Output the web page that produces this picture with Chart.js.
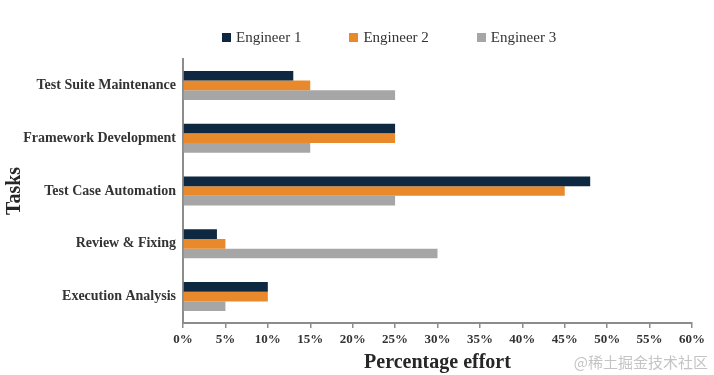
<!DOCTYPE html>
<html>
<head>
<meta charset="utf-8">
<script src="https://cdn.jsdelivr.net/npm/chart.js@4.4.1/dist/chart.umd.min.js"></script>
<style>
  html, body { margin: 0; padding: 0; background: #fff; }
  #wrap { position: relative; width: 714px; height: 375px; }
  #legend { position: absolute; left: 222px; top: 28px; display: flex; gap: 48px;
            font: 15px "Liberation Serif", serif; line-height: 18px; color: #333; }
  #legend .item { display: flex; align-items: center; }
  #legend .box { width: 9px; height: 9px; margin-right: 5px; }
  #mark { position: absolute; right: 6px; top: 351px; font: 15px "Noto Sans CJK SC", sans-serif; color: #c4c4c4; }
</style>
</head>
<body>
<div id="wrap">
  <canvas id="chart" width="714" height="375"></canvas>
  <div id="legend"></div>
  <div id="mark">@稀土掘金技术社区</div>
</div>
<script>
const tasks = ["Test Suite Maintenance", "Framework Development", "Test Case Automation", "Review & Fixing", "Execution Analysis"];
const seriesNames = ["Engineer 1", "Engineer 2", "Engineer 3"];
const engineer1 = [13, 25, 48, 4, 10];
const engineer2 = [15, 25, 45, 5, 10];
const engineer3 = [25, 15, 25, 30, 5];
const colors = ["#0e2841", "#e8892b", "#a6a6a6"];

Chart.defaults.font.family = '"Liberation Serif", serif';

const axisGray = "#8c8c8c";

const chart = new Chart(document.getElementById("chart"), {
    type: "bar",
    data: {
        labels: tasks,
        datasets: [engineer1, engineer2, engineer3].map((d, i) => ({
            label: seriesNames[i],
            data: d,
            backgroundColor: colors[i],
            barPercentage: 1,
            categoryPercentage: 0.55
        }))
    },
    options: {
        indexAxis: "y",
        responsive: false,
        animation: false,
        layout: { padding: { top: 59, right: 22, left: 0, bottom: 0 } },
        plugins: {
            legend: { display: false },
            tooltip: { enabled: false }
        },
        scales: {
            x: {
                min: 0,
                max: 60,
                ticks: {
                    stepSize: 5,
                    autoSkip: false,
                    maxRotation: 0,
                    callback: v => v + "%",
                    font: { size: 13, weight: "bold" },
                    color: "#333",
                    padding: 4
                },
                grid: { drawOnChartArea: false, drawTicks: true, tickLength: 5, color: axisGray, lineWidth: 1.5 },
                border: { color: axisGray, width: 2 },
                title: {
                    display: true,
                    text: "Percentage effort",
                    font: { size: 20, weight: "bold" },
                    color: "#262626",
                    padding: { top: 0, bottom: 0 }
                },
                afterFit: s => { s.height = 52; }
            },
            y: {
                ticks: { font: { size: 14, weight: "bold" }, color: "#333", padding: 7 },
                grid: { display: false, drawTicks: false, tickLength: 0 },
                border: { color: axisGray, width: 2 },
                title: {
                    display: true,
                    text: "Tasks",
                    font: { size: 20, weight: "bold" },
                    color: "#262626",
                    padding: { top: 3, bottom: 0 }
                },
                afterFit: s => { s.width = 183; }
            }
        }
    }
});

// html legend built from the datasets
const legendEl = document.getElementById("legend");
chart.data.datasets.forEach(ds => {
    const item = document.createElement("div");
    item.className = "item";
    item.innerHTML = `<span class="box" style="background:${ds.backgroundColor}"></span><span>${ds.label}</span>`;
    legendEl.appendChild(item);
});
</script>
</body>
</html>
